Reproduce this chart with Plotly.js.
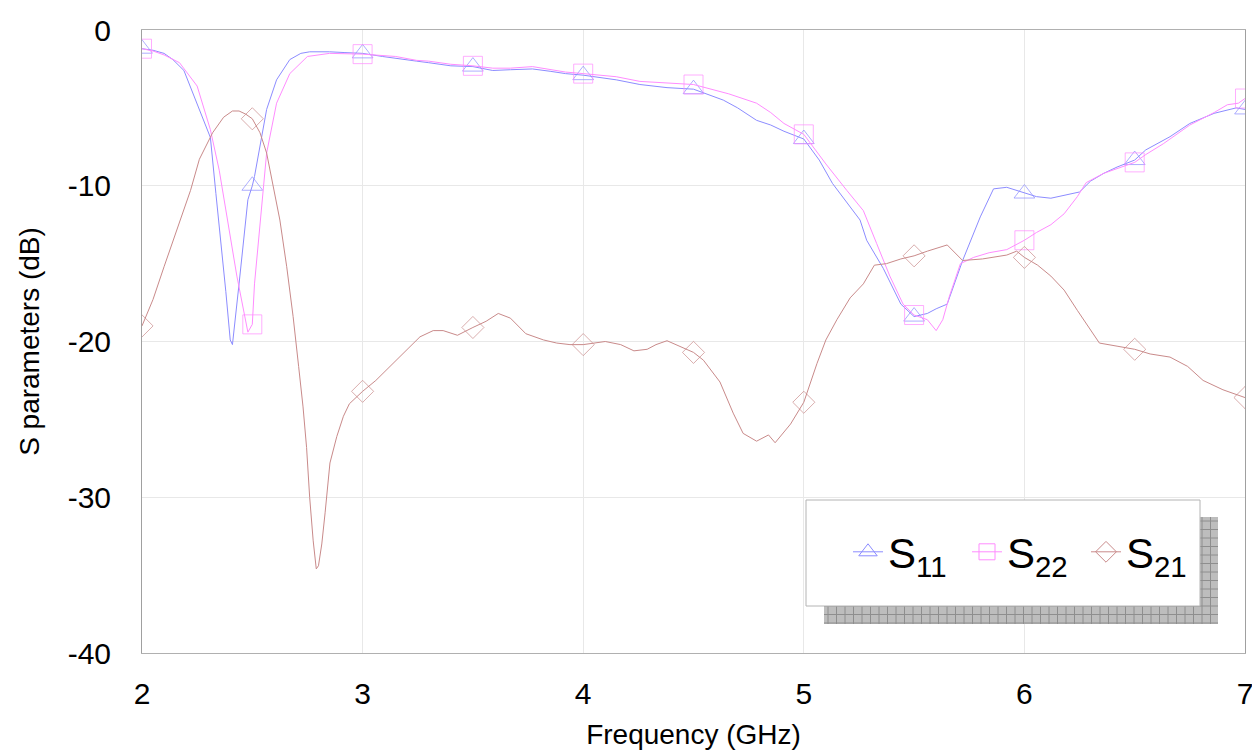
<!DOCTYPE html>
<html>
<head>
<meta charset="utf-8">
<script src="https://cdn.plot.ly/plotly-3.0.1.min.js"></script>
<style>html,body{margin:0;padding:0;background:#fff;}#chart{width:1252px;height:752px;}</style>
</head>
<body>
<div id="chart"></div>
<script>
// ---- data ----
const seriesNames = ['S<sub>11</sub>', 'S<sub>22</sub>', 'S<sub>21</sub>'];

const s11Freq = [2.0,2.05,2.1,2.14,2.19,2.25,2.31,2.335,2.36,2.38,2.40,2.41,2.44,2.48,2.5,2.51,2.565,2.61,2.67,2.72,2.76,2.85,2.92,3.0,3.09,3.15,3.245,3.3,3.4,3.5,3.59,3.67,3.77,3.85,3.92,4.0,4.08,4.15,4.257,4.38,4.5,4.635,4.7,4.786,4.85,4.91,5.0,5.07,5.13,5.195,5.255,5.285,5.36,5.44,5.5,5.56,5.6,5.65,5.72,5.8,5.86,5.92,5.965,6.0,6.055,6.12,6.19,6.25,6.3,6.36,6.42,6.5,6.55,6.66,6.75,6.86,6.96,7.0];
const s11dB   = [-1.2,-1.3,-1.5,-1.9,-2.6,-4.7,-6.9,-10.5,-13.8,-16.8,-19.9,-20.2,-16.3,-10.9,-10.0,-9.4,-5.1,-3.2,-1.9,-1.5,-1.4,-1.4,-1.45,-1.5,-1.7,-1.8,-2.0,-2.1,-2.3,-2.35,-2.6,-2.55,-2.5,-2.65,-2.8,-2.9,-3.05,-3.2,-3.5,-3.7,-3.8,-4.5,-5.0,-5.8,-6.1,-6.5,-7.0,-8.35,-9.85,-11.1,-12.2,-13.5,-15.3,-17.6,-18.4,-18.2,-17.9,-17.6,-14.8,-12.0,-10.2,-10.1,-10.3,-10.5,-10.7,-10.8,-10.6,-10.4,-9.7,-9.2,-8.8,-8.35,-7.7,-6.85,-6.0,-5.35,-5.0,-5.1];

const s22Freq = [2.0,2.05,2.1,2.17,2.25,2.31,2.35,2.38,2.43,2.48,2.5,2.51,2.54,2.565,2.61,2.67,2.75,2.85,3.0,3.09,3.15,3.245,3.3,3.4,3.5,3.59,3.67,3.77,3.85,3.92,4.0,4.15,4.257,4.38,4.5,4.66,4.786,4.85,4.91,5.0,5.1,5.195,5.27,5.33,5.39,5.45,5.5,5.56,5.6,5.63,5.66,5.71,5.77,5.84,5.92,6.0,6.055,6.12,6.18,6.24,6.28,6.36,6.42,6.5,6.55,6.63,6.75,6.86,6.92,6.97,7.0];
const s22dB   = [-1.2,-1.35,-1.6,-2.1,-3.6,-6.4,-9.0,-11.5,-15.8,-19.4,-18.9,-16.3,-11.5,-7.9,-4.7,-2.8,-1.7,-1.5,-1.55,-1.65,-1.7,-1.95,-2.0,-2.2,-2.3,-2.45,-2.45,-2.35,-2.55,-2.7,-2.8,-3.0,-3.3,-3.4,-3.5,-4.1,-4.7,-5.3,-6.0,-6.7,-8.6,-10.3,-11.6,-13.7,-15.8,-17.6,-18.3,-18.6,-19.3,-18.6,-17.1,-15.0,-14.6,-14.3,-14.1,-13.5,-13.0,-12.5,-11.8,-10.7,-9.8,-9.2,-8.9,-8.5,-8.0,-7.3,-6.1,-5.3,-4.8,-4.7,-4.4];

const s21Freq = [2.0,2.05,2.1,2.15,2.19,2.22,2.26,2.32,2.37,2.41,2.44,2.47,2.5,2.535,2.565,2.595,2.625,2.656,2.685,2.71,2.73,2.746,2.76,2.776,2.79,2.8,2.815,2.83,2.852,2.883,2.913,2.94,3.0,3.06,3.15,3.21,3.26,3.32,3.365,3.43,3.5,3.56,3.615,3.67,3.74,3.82,3.88,3.94,4.0,4.06,4.1,4.17,4.23,4.29,4.33,4.38,4.42,4.5,4.545,4.59,4.62,4.68,4.725,4.786,4.84,4.87,4.94,5.0,5.06,5.1,5.15,5.21,5.27,5.32,5.375,5.44,5.5,5.56,5.62,5.65,5.72,5.81,5.92,5.965,6.0,6.06,6.12,6.18,6.24,6.3,6.34,6.42,6.5,6.57,6.66,6.74,6.81,6.9,7.0];
const s21dB   = [-19.0,-17.3,-15.2,-13.2,-11.6,-10.3,-8.3,-6.6,-5.6,-5.2,-5.2,-5.4,-5.7,-6.6,-7.9,-10.1,-12.2,-15.2,-18.4,-21.6,-24.2,-26.8,-30.0,-32.8,-34.6,-34.4,-33.0,-31.0,-27.8,-26.1,-24.8,-24.0,-23.2,-22.5,-21.2,-20.4,-19.7,-19.3,-19.3,-19.6,-19.1,-18.7,-18.2,-18.5,-19.5,-19.9,-20.1,-20.2,-20.2,-20.1,-20.0,-20.2,-20.6,-20.5,-20.2,-19.95,-20.2,-20.7,-21.2,-22.0,-22.6,-24.6,-25.9,-26.4,-26.0,-26.5,-25.3,-23.9,-21.4,-19.9,-18.6,-17.2,-16.3,-15.1,-15.0,-14.7,-14.5,-14.2,-13.9,-13.8,-14.8,-14.7,-14.45,-14.2,-14.6,-15.1,-15.8,-16.7,-18.0,-19.3,-20.1,-20.3,-20.5,-20.8,-21.0,-21.6,-22.5,-23.1,-23.6];

const xTickVals = [2,3,4,5,6,7];
const yTickVals = [0,-10,-20,-30,-40];
const xTitle = 'Frequency (GHz)';
const yTitle = 'S parameters (dB)';

// ---- styling ----
const FONT = 'Liberation Sans, Arial, sans-serif';
const colors = ['#8c8cff', '#ff8cff', '#c98a8a'];
const symbols = ['triangle-up-open', 'square-open', 'diamond-open'];
const msize = [18, 19, 17];

function markerSizes(freqs, s) {
  return freqs.map(f => Math.abs(f * 2 - Math.round(f * 2)) < 1e-6 ? s : 0);
}

const fx = [s11Freq, s22Freq, s21Freq];
const fy = [s11dB, s22dB, s21dB];
const traces = fx.map((f, i) => ({
  type: 'scatter', mode: 'lines+markers', name: seriesNames[i],
  x: f, y: fy[i], showlegend: false,
  line: {color: colors[i], width: 1},
  marker: {symbol: symbols[i], size: markerSizes(f, msize[i]), color: colors[i], line: {width: 1, color: colors[i]}}
}));
// legend entries with constant marker size
fx.forEach((f, i) => {
  traces.push({type: 'scatter', mode: 'lines+markers', name: seriesNames[i], x: [null], y: [null],
    line: {color: colors[i], width: 1},
    marker: {symbol: symbols[i], size: msize[i], color: colors[i], line: {width: 1, color: colors[i]}}});
});

// plot area geometry (pixels) for paper conversions
const L = 142, R = 1245, T = 30, B = 653;
const px = v => (v - L) / (R - L);
const py = v => (B - v) / (B - T);

const shapes = [];
// shadow
const sx0 = 824, sx1 = 1218, sy0 = 517, sy1 = 624;
shapes.push({type: 'rect', xref: 'paper', yref: 'paper', x0: px(sx0), x1: px(sx1), y0: py(sy1), y1: py(sy0),
  fillcolor: '#bdbdbd', line: {width: 0}, layer: 'above'});
let hatch = '';
for (let x = sx0 + 4; x < sx1; x += 8.5) hatch += `M${px(x)},${py(sy1)}L${px(x)},${py(sy0)}`;
for (let y = sy0 + 4; y < sy1; y += 8.5) hatch += `M${px(sx0)},${py(y)}L${px(sx1)},${py(y)}`;
shapes.push({type: 'path', xref: 'paper', yref: 'paper', path: hatch, line: {color: '#8e8e8e', width: 1}, layer: 'above'});
// legend box
shapes.push({type: 'rect', xref: 'paper', yref: 'paper', x0: px(806), x1: px(1200), y0: py(606), y1: py(500),
  fillcolor: '#ffffff', line: {color: '#b4b4b4', width: 1}, layer: 'above'});

const layout = {
  width: 1252, height: 752,
  margin: {l: L, r: 1252 - R, t: T, b: 752 - B},
  paper_bgcolor: '#ffffff', plot_bgcolor: '#ffffff',
  font: {family: FONT, color: '#000'},
  showlegend: true,
  legend: {orientation: 'h', x: px(848), y: py(552), xanchor: 'left', yanchor: 'middle',
    entrywidth: 74, entrywidthmode: 'pixels',
    bgcolor: 'rgba(0,0,0,0)', borderwidth: 0, font: {family: FONT, size: 42, color: '#000'}},
  xaxis: {range: [2, 7], tickvals: xTickVals, ticktext: xTickVals.map(String), showgrid: true, gridcolor: '#e8e8e8',
    zeroline: false, showline: true, mirror: true, linecolor: '#b0b0b0', linewidth: 1, ticks: '',
    ticklabelstandoff: 14, ticklabeloverflow: 'allow',
    tickfont: {family: FONT, size: 30, color: '#000'},
    title: {text: xTitle, font: {family: FONT, size: 28, color: '#000'}, standoff: 15}},
  yaxis: {range: [-40, 0], tickvals: yTickVals, ticktext: yTickVals.map(String), showgrid: true, gridcolor: '#e8e8e8',
    zeroline: false, showline: true, mirror: true, linecolor: '#a0a0a0', linewidth: 1, ticks: '',
    ticklabelstandoff: 24,
    tickfont: {family: FONT, size: 30, color: '#000'},
    title: {text: yTitle, font: {family: FONT, size: 28, color: '#000'}, standoff: 19}},
  shapes: shapes
};

Plotly.newPlot('chart', traces, layout, {displayModeBar: false, staticPlot: true});
</script>
</body>
</html>
